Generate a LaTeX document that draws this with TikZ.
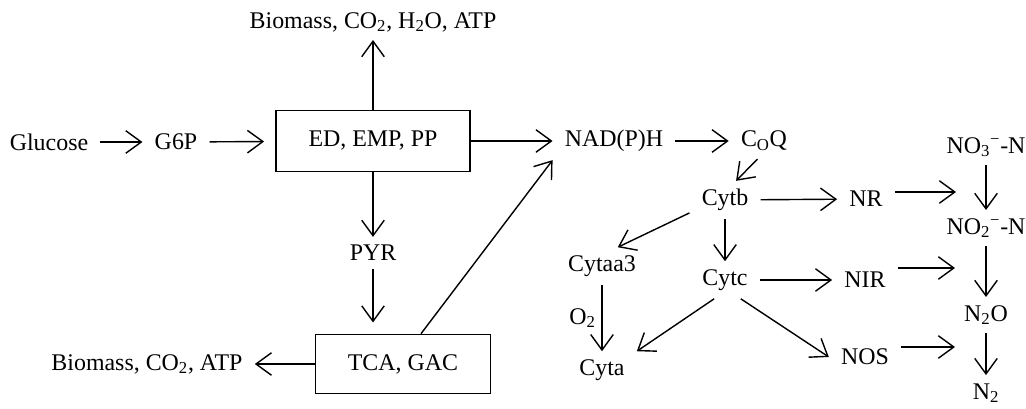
\documentclass[tikz,border=0pt]{standalone}
\usepackage{fontspec}
\setmainfont{Liberation Serif}
\usepackage{tikz}
\usetikzlibrary{arrows.meta}

\tikzset{
    arr/.style={-{Straight Barb[length=11pt,width=16pt]}, line width=1pt},
    lbl/.style={inner xsep=0.3cm, inner ysep=0.2cm, font=\fontsize{17}{20}\selectfont},
    proc/.style={draw, line width=1pt, inner sep=0pt, font=\fontsize{17}{20}\selectfont},
    inbox/.style={shorten >=0.28cm},
}
\newcommand{\ionsub}[2]{\textsubscript{#1}\textsuperscript{#2}}

\begin{document}
\begin{tikzpicture}[x=0.025cm, y=-0.025cm]
    \useasboundingbox (0,0) rectangle (1026,408);

    % carbon side
    \node[lbl] (glu) at (49,142) {Glucose};
    \node[lbl] (g6p) at (176,142) {G6P};
    \node[proc, minimum width=4.85cm, minimum height=1.52cm] (ed) at (373,141) {ED, EMP, PP};
    \node[lbl] (biotop) at (373,22) {Biomass, CO\textsubscript{2}, H\textsubscript{2}O, ATP};
    \node[lbl] (pyr) at (373,253) {PYR};
    \node[proc, minimum width=4.38cm, minimum height=1.48cm] (tca) at (403,364) {TCA, GAC};
    \node[lbl] (biobot) at (147,364) {Biomass, CO\textsubscript{2}, ATP};

    % electron transport chain
    \node[lbl] (nad) at (614,141) {NAD(P)H};
    \node[lbl] (coq) at (764,141) {C\textsubscript{O}Q};
    \node[lbl] (cytb) at (725,200) {Cytb};
    \node[lbl] (nr) at (866,199) {NR};
    \node[lbl] (cytaa) at (602,266) {Cytaa3};
    \node[lbl] (cytc) at (725,280) {Cytc};
    \node[lbl] (nir) at (865,280) {NIR};
    \node[lbl] (cyta) at (602,370) {Cyta};
    \node[lbl] (nos) at (865,357) {NOS};

    % nitrogen side
    \node[lbl] (no3) at (986,147) {NO\ionsub{3}{−}-N};
    \node[lbl] (no2) at (986,228) {NO\ionsub{2}{−}-N};
    \node[lbl] (n2o) at (986,315) {N\textsubscript{2}O};
    \node[lbl] (n2) at (986,393) {N\textsubscript{2}};
    \coordinate (tonr) at (956,192);
    \coordinate (tonir) at (955,268);
    \coordinate (tonos) at (955,347);

    \draw[arr] (glu) -- (g6p);
    \draw[arr, inbox] (g6p) -- (ed);
    \draw[arr] (ed) -- (biotop);
    \draw[arr] (ed) -- (pyr);
    \draw[arr, inbox] (pyr) -- (pyr |- tca.north);
    \draw[arr] (tca) -- (biobot);
    \draw[arr] ([xshift=0.45cm]tca.north) -- (nad.south west);
    \draw[arr] (ed) -- (nad);
    \draw[arr] (nad) -- (coq);
    \draw[arr] (coq.250) -- (cytb.60);
    \draw[arr] (cytb) -- (nr);
    \draw[arr] (cytb.200) -- (cytaa.50);
    \draw[arr] (cytb) -- (cytc);
    \draw[arr] (cytaa) -- (cyta) node[midway, left, inner sep=4pt, font=\fontsize{17}{20}\selectfont] (o2) {O\textsubscript{2}};
    \draw[arr] (cytc.240) -- (cyta.north east);
    \draw[arr] (cytc) -- (nir);
    \draw[arr] (cytc.310) -- (nos.west);
    \draw[arr] (nr.east |- tonr) -- (tonr);
    \draw[arr] (nir.east |- tonir) -- (tonir);
    \draw[arr] (nos.east |- tonos) -- (tonos);
    \draw[arr] (no3) -- (no2);
    \draw[arr] (no2) -- (n2o);
    \draw[arr] (n2o) -- (n2);
\end{tikzpicture}
\end{document}
